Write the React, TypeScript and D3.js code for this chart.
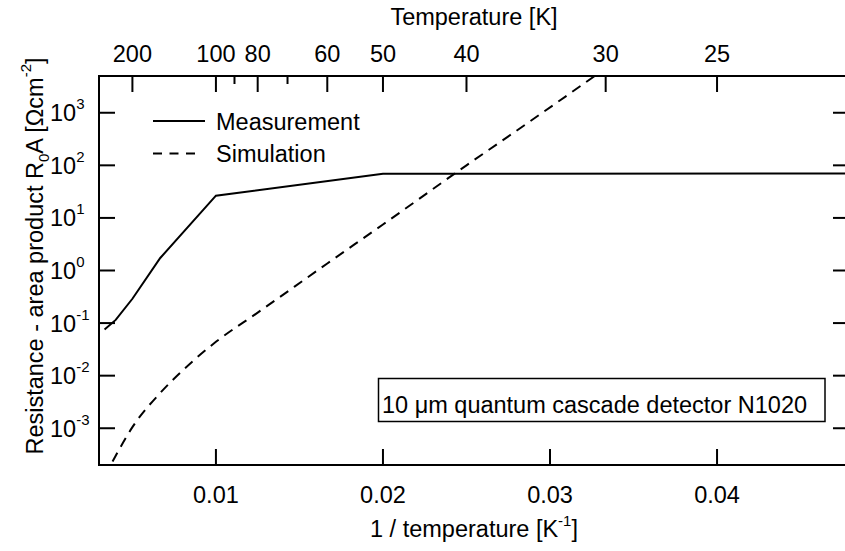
import React from "react";
import * as d3 from "d3";

// Data (temperature in K, R0A in Ohm cm^2)
const measTemps = [300, 250, 200, 150, 100, 50, 20];
const measValues = [0.0755, 0.115, 0.29, 1.73, 26.5, 69, 70];
const simTemps = [300, 250, 200, 150, 125, 100, 80, 60, 50, 40, 35, 30];
const simValues = [1.2e-4, 3.0e-4, 1.05e-3, 4.7e-3, 1.25e-2, 4.4e-2, 0.158, 1.36, 7.5, 100, 610, 7000];

const xTicks = [0.01, 0.02, 0.03, 0.04];
const yTicks = [1e-3, 1e-2, 1e-1, 1, 10, 100, 1000];
const topMajor = [200, 100, 80, 60, 50, 40, 30, 25];
const topMinor = [90, 70];

const W = 845;
const H = 551;
const L = 99;
const R = 849;
const T = 76;
const B = 465;
const FONT = "'Liberation Sans', Arial, sans-serif";
const FS = 23.5;

export default function App() {
  const x = d3.scaleLinear().domain([0.003, 0.0479]).range([L, R]);
  const y = d3.scaleLog().domain([2e-4, 5e3]).range([B, T]);

  const line = d3
    .line<[number, number]>()
    .x((d) => x(1 / d[0]))
    .y((d) => y(d[1]));
  const measPath = line(measTemps.map((t, i) => [t, measValues[i]] as [number, number])) || "";
  const simLine = d3
    .line<[number, number]>()
    .x((d) => x(1 / d[0]))
    .y((d) => y(d[1]))
    .curve(d3.curveMonotoneX);
  const simPath = simLine(simTemps.map((t, i) => [t, simValues[i]] as [number, number])) || "";

  const tickLen = 16;
  const minorLen = 8;

  return (
    <svg
      width={W}
      height={H}
      style={{ position: "absolute", left: 0, top: 0, background: "#fff" }}
      fontFamily={FONT}
    >
      <defs>
        <clipPath id="plotclip">
          <rect x={L} y={T} width={R - L} height={B - T} />
        </clipPath>
      </defs>

      {/* curves */}
      <g clipPath="url(#plotclip)" fill="none" stroke="#000" strokeWidth={2}>
        <path d={measPath} />
        <path d={simPath} strokeDasharray="10,7" />
      </g>

      {/* frame */}
      <g stroke="#000" strokeWidth={2} fill="none">
        <line x1={L} y1={T} x2={R} y2={T} />
        <line x1={L} y1={B} x2={R} y2={B} />
        <line x1={L} y1={T - 1} x2={L} y2={B + 1} />
        <line x1={R} y1={T - 1} x2={R} y2={B + 1} />
      </g>

      {/* bottom axis */}
      <g>
        {xTicks.map((v) => (
          <g key={v}>
            <line x1={x(v)} x2={x(v)} y1={B} y2={B - tickLen} stroke="#000" strokeWidth={2} />
            <text x={x(v)} y={503} fontSize={FS} textAnchor="middle">
              {d3.format(".2f")(v)}
            </text>
          </g>
        ))}
        <text x={(L + R) / 2} y={537} fontSize={FS} textAnchor="middle">
          1 / temperature [K
          <tspan dy={-11} fontSize={15}>-1</tspan>
          <tspan dy={11}>]</tspan>
        </text>
      </g>

      {/* top axis */}
      <g>
        {topMajor.map((t) => (
          <g key={t}>
            <line x1={x(1 / t)} x2={x(1 / t)} y1={T} y2={T + tickLen} stroke="#000" strokeWidth={2} />
            <text x={x(1 / t)} y={62} fontSize={FS} textAnchor="middle">
              {t}
            </text>
          </g>
        ))}
        {topMinor.map((t) => (
          <line key={t} x1={x(1 / t)} x2={x(1 / t)} y1={T} y2={T + minorLen} stroke="#000" strokeWidth={2} />
        ))}
        <text x={(L + R) / 2} y={25} fontSize={FS} textAnchor="middle">
          Temperature [K]
        </text>
      </g>

      {/* left & right axes */}
      <g>
        {yTicks.map((v) => {
          const e = Math.round(Math.log10(v));
          return (
            <g key={v}>
              <line x1={L} x2={L + tickLen} y1={y(v)} y2={y(v)} stroke="#000" strokeWidth={2} />
              <line x1={R} x2={R - tickLen} y1={y(v)} y2={y(v)} stroke="#000" strokeWidth={2} />
              <text x={50} y={y(v) + 8.5} fontSize={FS}>
                10
                <tspan dy={-12} fontSize={15}>{String(e)}</tspan>
              </text>
            </g>
          );
        })}
        <text transform={`translate(43,256) rotate(-90)`} fontSize={FS} textAnchor="middle">
          Resistance - area product R
          <tspan dy={6} fontSize={15}>0</tspan>
          <tspan dy={-6}>A [Ωcm</tspan>
          <tspan dy={-12} fontSize={15}>-2</tspan>
          <tspan dy={12}>]</tspan>
        </text>
      </g>

      {/* legend */}
      <g>
        <line x1={153} x2={205} y1={121} y2={121} stroke="#000" strokeWidth={2} />
        <text x={216} y={130} fontSize={FS}>Measurement</text>
        <line x1={153} x2={197} y1={153.5} y2={153.5} stroke="#000" strokeWidth={2} strokeDasharray="9,7.5" />
        <text x={216} y={162} fontSize={FS}>Simulation</text>
      </g>

      {/* annotation */}
      <g>
        <rect x={378.5} y={378.5} width={446.5} height={43} fill="#fff" stroke="#000" strokeWidth={1.5} />
        <text x={382} y={413} fontSize={FS}>10 μm quantum cascade detector N1020</text>
      </g>
    </svg>
  );
}
